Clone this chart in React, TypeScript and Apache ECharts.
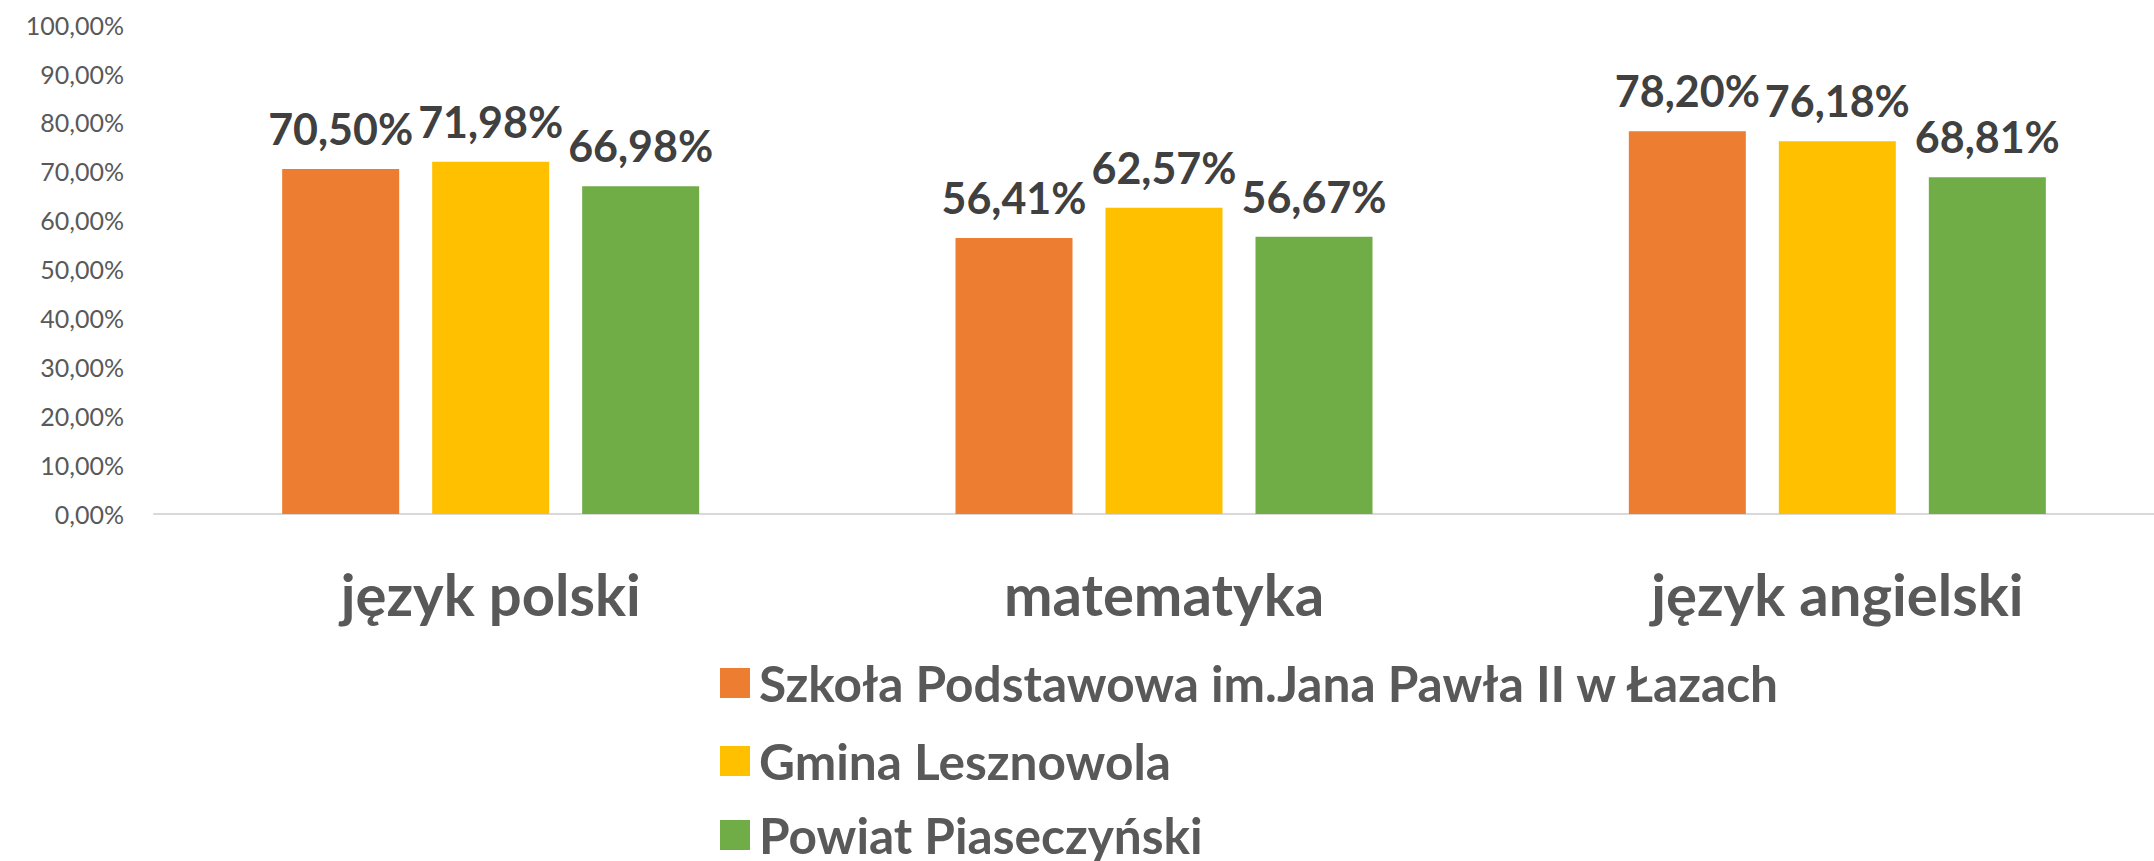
import React, { useEffect, useRef } from "react";
import * as echarts from "echarts";

const categories = ["język polski", "matematyka", "język angielski"];
const seriesNames = [
  "Szkoła Podstawowa im.Jana Pawła II w Łazach",
  "Gmina Lesznowola",
  "Powiat Piaseczyński",
];
const szkolaValues = [70.5, 56.41, 78.2];
const gminaValues = [71.98, 62.57, 76.18];
const powiatValues = [66.98, 56.67, 68.81];
const seriesColors = ["#ED7D31", "#FFC000", "#70AD47"];

const fmt = (v: number) => v.toFixed(2).replace(".", ",") + "%";
const FONT = "Lato";

export default function App() {
  const ref = useRef<HTMLDivElement>(null);
  useEffect(() => {
    if (!ref.current) return;
    const chart = echarts.init(ref.current, null, { renderer: "svg" });
    const values = [szkolaValues, gminaValues, powiatValues];
    const legendTops = [653, 731, 805];
    chart.setOption({
      animation: false,
      backgroundColor: "#FFFFFF",
      grid: { left: 154, top: 24.6, height: 489.4, width: 2020, containLabel: false },
      legend: seriesNames.map((name, i) => ({
        orient: "vertical",
        left: 715,
        top: legendTops[i],
        itemWidth: 30,
        itemHeight: 30,
        icon: "rect",
        selectedMode: false,
        data: [name],
        textStyle: {
          fontFamily: FONT,
          fontWeight: "bold",
          fontSize: 49.6,
          color: "#595959",
          padding: [0, 0, 0, 4],
        },
      })),
      xAxis: {
        type: "category",
        data: categories,
        boundaryGap: true,
        axisLine: { show: true, lineStyle: { color: "#D9D9D9", width: 2 } },
        axisTick: { show: false },
        axisLabel: {
          margin: 50,
          fontFamily: FONT,
          fontWeight: "bold",
          fontSize: 58,
          color: "#595959",
        },
      },
      yAxis: {
        type: "value",
        min: 0,
        max: 100,
        interval: 10,
        splitLine: { show: false },
        axisLine: { show: false },
        axisTick: { show: false },
        axisLabel: {
          margin: 30,
          fontFamily: FONT,
          fontSize: 25,
          color: "#595959",
          formatter: (v: number) => fmt(v),
        },
      },
      series: seriesNames.map((name, i) => ({
        name,
        type: "bar",
        data: values[i],
        barWidth: 117,
        barGap: "28.2%",
        itemStyle: { color: seriesColors[i] },
        label: {
          show: true,
          position: "top",
          distance: 19,
          fontFamily: FONT,
          fontWeight: "bold",
          fontSize: 43,
          color: "#404040",
          formatter: (p: any) => fmt(p.value),
        },
      })),
    });
    return () => chart.dispose();
  }, []);
  return (
    <div style={{ position: "absolute", left: 0, top: 0, width: 2154, height: 861, overflow: "hidden" }}>
      <div ref={ref} style={{ width: 2180, height: 861 }} />
    </div>
  );
}
